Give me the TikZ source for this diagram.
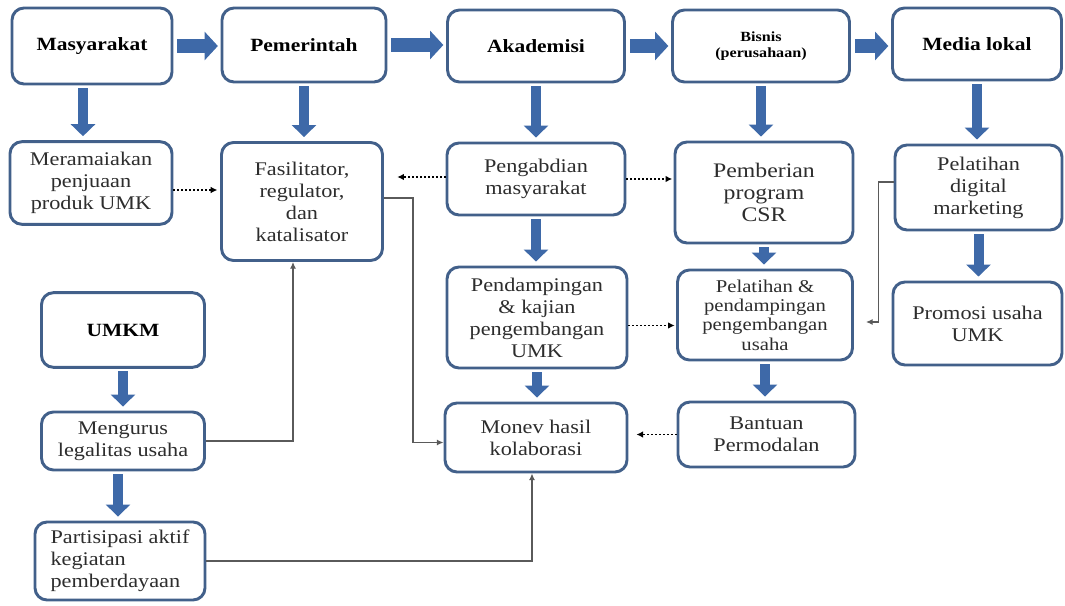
\documentclass[tikz,border=0pt]{standalone}
\usepackage{fontspec}
\setmainfont{Liberation Serif}[FakeStretch=1.15]
\usetikzlibrary{arrows.meta,calc}
\definecolor{boxline}{RGB}{66,96,138}
\definecolor{blk}{RGB}{62,105,168}
\definecolor{txt}{RGB}{45,45,45}
\definecolor{thinc}{RGB}{90,90,90}
\begin{document}
\begin{tikzpicture}[x=0.75pt,y=-0.75pt,
  box/.style={draw=boxline,line width=2.2pt,rounded corners=9pt,fill=white,align=center,
    text=txt,font=\fontsize{14.5}{16.5}\selectfont,inner sep=2pt},
  ttl/.style={box,text=black,font=\fontsize{14}{16}\selectfont\bfseries},
  blkv/.style={draw=blk,line width=7.5pt,-{Triangle[width=18pt,length=9pt]},shorten <=2pt,shorten >=3pt},
  blkh/.style={draw=blk,line width=10pt,-{Triangle[width=21pt,length=10pt]},shorten <=3pt,shorten >=2pt},
  dotarr/.style={draw=black,line width=1pt,dotted,-{Latex[length=5pt,width=5pt]}},
  thinarr/.style={draw=thinc,line width=0.9pt,-{Latex[length=5pt,width=4.5pt]}}]
\useasboundingbox (0,0) rectangle (1065,606);
% top row
\node[ttl,minimum width=120pt,minimum height=57pt] (mas) at (92,46) {Masyarakat};
\node[ttl,minimum width=123pt,minimum height=55.5pt] (pem) at (304,45) {Pemerintah};
\node[ttl,minimum width=132.75pt,minimum height=54pt] (aka) at (536,46) {Akademisi};
\node[ttl,minimum width=132.75pt,minimum height=54pt,font=\fontsize{10.5}{12.5}\selectfont\bfseries] (bis) at (761,46) {Bisnis\\(perusahaan)};
\node[ttl,minimum width=126.75pt,minimum height=54pt] (med) at (977,44) {Media lokal};
% row 2
\node[box,minimum width=121.5pt,minimum height=62pt] (mer) at (91,183) {Meramaiakan\\penjuaan\\produk UMK};
\node[box,minimum width=120.75pt,minimum height=88.5pt] (fas) at (302,201.5) {Fasilitator,\\regulator,\\dan\\katalisator};
\node[box,minimum width=133.5pt,minimum height=54pt] (pen) at (536,179) {Pengabdian\\masyarakat};
\node[box,minimum width=133.5pt,minimum height=75.75pt,font=\fontsize{15.5}{16.5}\selectfont] (pcs) at (764,192.5) {Pemberian\\program\\CSR};
\node[box,minimum width=125.25pt,minimum height=63.75pt] (pdm) at (978.5,187.5) {Pelatihan\\digital\\marketing};
% row 3
\node[ttl,minimum width=122.25pt,minimum height=56pt] (umk) at (123,330) {UMKM};
\node[box,minimum width=135pt,minimum height=75.75pt] (pkj) at (537,317.5) {Pendampingan\\\& kajian\\pengembangan\\UMK};
\node[box,minimum width=131.25pt,minimum height=67.5pt,font=\fontsize{13.5}{14.5}\selectfont] (plt) at (765,315) {Pelatihan \&\\pendampingan\\pengembangan\\usaha};
\node[box,minimum width=126.75pt,minimum height=62.25pt] (pro) at (977.5,323.5) {Promosi usaha\\UMK};
% row 4
\node[box,minimum width=122.25pt,minimum height=43.5pt] (mgr) at (123,441) {Mengurus\\legalitas usaha};
\node[box,minimum width=136.5pt,minimum height=51.75pt] (mon) at (536,437.5) {Monev hasil\\kolaborasi};
\node[box,minimum width=132.75pt,minimum height=48.75pt] (ban) at (766.5,434.5) {Bantuan\\Permodalan};
\node[box,minimum width=127.5pt,minimum height=58.5pt,align=left] (par) at (120,561) {Partisipasi aktif\\kegiatan\\pemberdayaan};
% horizontal block arrows
\draw[blkh] (mas.east) -- (mas.east -| pem.west);
\draw[blkh] (pem.east) -- (pem.east -| aka.west);
\draw[blkh] (aka.east) -- (aka.east -| bis.west);
\draw[blkh] (bis.east) -- (bis.east -| med.west);
% vertical block arrows
\coordinate (v1) at ($(mas.south)+(-9,0)$);
\draw[blkv] (v1) -- (v1 |- mer.north);
\draw[blkv] (pem.south) -- (pem.south |- fas.north);
\draw[blkv] (aka.south) -- (aka.south |- pen.north);
\draw[blkv] (bis.south) -- (bis.south |- pcs.north);
\draw[blkv] (med.south) -- (med.south |- pdm.north);
\draw[blkv] (pen.south) -- (pen.south |- pkj.north);
\draw[blkv] (pcs.south) -- (pcs.south |- plt.north);
\draw[blkv] (pdm.south) -- (pdm.south |- pro.north);
\draw[blkv] (pkj.south) -- (pkj.south |- mon.north);
\draw[blkv] (plt.south) -- (plt.south |- ban.north);
\draw[blkv] (umk.south) -- (umk.south |- mgr.north);
\coordinate (v2) at ($(mgr.south)+(-5,0)$);
\draw[blkv] (v2) -- (v2 |- par.north);
% dotted arrows
\coordinate (d1) at ($(mer.east)+(0,7)$);
\draw[dotarr,shorten >=2pt] (d1) -- (d1 -| fas.west);
\coordinate (d3) at ($(pen.west)+(0,-2)$);
\draw[dotarr,shorten >=10pt] (d3) -- (d3 -| fas.east);
\draw[dotarr,shorten >=1pt] (pen.east) -- (pen.east -| pcs.west);
\coordinate (d2) at ($(pkj.east)+(0,8)$);
\draw[dotarr,shorten >=1pt] (d2) -- (d2 -| plt.west);
\draw[dotarr,shorten >=6pt] (ban.west) -- (ban.west -| mon.east);
% thin connectors
\coordinate (t1) at ($(fas.south)+(-9,0)$);
\draw[thinarr] (mgr.east) -| (t1);
\coordinate (t2) at ($(fas.east)+(29,-3.5)$);
\coordinate (t3) at ($(mon.west)+(0,5)$);
\draw[thinarr] ($(fas.east)+(0,-3.5)$) -- (t2) |- (t3);
\coordinate (t4) at ($(mon.south)+(-4,0)$);
\draw[thinarr] (par.east) -| (t4);
\coordinate (t5) at ($(pdm.west)+(-15,-5.5)$);
\coordinate (t6) at ($(plt.east)+(12,7)$);
\draw[thinarr] ($(pdm.west)+(0,-5.5)$) -- (t5) |- (t6);
\end{tikzpicture}
\end{document}
